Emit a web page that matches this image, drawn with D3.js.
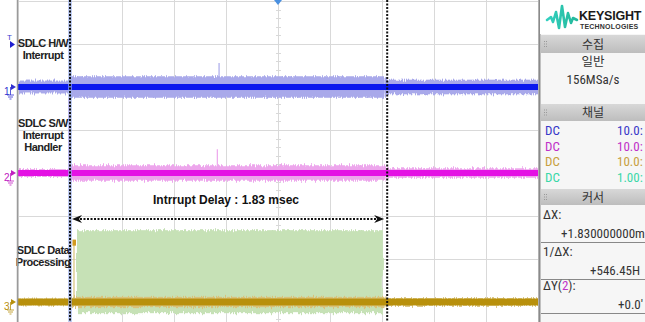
<!DOCTYPE html>
<html>
<head>
<meta charset="utf-8">
<script src="https://cdn.jsdelivr.net/npm/d3@7"></script>
<style>
  html, body { margin: 0; padding: 0; background: #fff; }
  svg { display: block; }
</style>
</head>
<body>
<div id="scope"></div>
<script>
// time in ms, amplitude in screen divisions (0 = centre line)
const timeTicks = d3.range(-1.5, 1.5001, 0.3);
const divTicks = d3.range(-4, 4.001, 1);
const cursorTimes = [-1.2, 0.63];

const chNames = ['1', '2', '3'];
const chOffsets = [2, 0, -3];

// [t start, t end, noise half-width (div)]
const ch1Noise = [[-1.5, -1.2, 0.15], [-1.2, 0.62, 0.25], [0.62, 1.5, 0.17]];
const ch2Noise = [[-1.5, -1.2, 0.09], [-1.2, 0.62, 0.18], [0.62, 1.5, 0.11]];
const ch3Noise = [[-1.5, -1.2, 0.08], [-1.2, 0.62, 0.12], [0.62, 1.5, 0.09]];
const coreHalf = [0.07, 0.07, 0.08];

// [t, peak (div)]
const ch1Spikes = [[-1.2, 2.6], [-0.34, 2.56]];
const ch2Spikes = [[-1.205, 1.75], [-0.35, 0.55]];
const ch3Spikes = [[-1.177, -1.55]];

// channel 4 burst: [t start, t end, top (div), bottom (div)]
const ch4Burst = [-1.16, 0.605, -1.33, -3.26];

const traceLabels = [
  { lines: ['SDLC H/W', 'Interrupt'], y: 47 },
  { lines: ['SDLC S/W', 'Interrupt', 'Handler'], y: 127 },
  { lines: ['SDLC Data', 'Processing'], y: 254 }
];
const delayText = 'Intrrupt Delay : 1.83 msec';

const chanRows = ['DC', 'DC', 'DC', 'DC'];
const chanScales = ['10.0:', '10.0:', '10.0:', '1.00:'];

const W = 645, H = 322;
const plot = { left: 18, right: 538, mid: 173, div: 43 };

const colors = {
  core: ['#0b17ee', '#e411e4', '#b8900c'],
  noise: ['#a9a9ea', '#eda5ec', '#d9c27a'],
  label: ['#3030d0', '#c020c0', '#b8900c'],
  chanText: ['#3838c8', '#c030c8', '#c8a040', '#3ad8a8']
};

const svg = d3.select('#scope').append('svg')
  .attr('width', W).attr('height', H)
  .style('font-family', 'Arial, "Liberation Sans", sans-serif');

const x = d3.scaleLinear().domain([-1.5, 1.5]).range([plot.left, plot.right]);
const y = d3.scaleLinear().domain([-4, 4]).range([plot.mid + 4 * plot.div, plot.mid - 4 * plot.div]);

const defs = svg.append('defs');
defs.append('clipPath').attr('id', 'plotClip')
  .append('rect').attr('x', plot.left).attr('y', 0)
  .attr('width', plot.right - plot.left).attr('height', H);

// jagged edge texture for noisy traces (style only)
const f = defs.append('filter').attr('id', 'jag')
  .attr('x', '-2%').attr('y', '-60%').attr('width', '104%').attr('height', '220%');
f.append('feTurbulence').attr('type', 'fractalNoise').attr('baseFrequency', '0.9 0.04')
  .attr('numOctaves', 1).attr('seed', 3).attr('result', 'n');
f.append('feDisplacementMap').attr('in', 'SourceGraphic').attr('in2', 'n')
  .attr('scale', 7).attr('xChannelSelector', 'B').attr('yChannelSelector', 'R');

// grid
const grid = svg.append('g').attr('stroke', '#d9d9d9').attr('stroke-width', 1);
grid.selectAll('line.v').data(timeTicks).join('line')
  .attr('x1', d => Math.round(x(d)) + 0.5).attr('x2', d => Math.round(x(d)) + 0.5)
  .attr('y1', 0).attr('y2', H);
grid.selectAll('line.h').data(divTicks).join('line')
  .attr('x1', plot.left).attr('x2', plot.right)
  .attr('y1', d => Math.round(y(d)) + 0.5).attr('y2', d => Math.round(y(d)) + 0.5);

// minor ticks on the centre axes
const minorY = d3.range(-4, 4.001, 0.2);
grid.selectAll('line.my').data(minorY).join('line')
  .attr('x1', x(0) - 2).attr('x2', x(0) + 3)
  .attr('y1', d => Math.round(y(d)) + 0.5).attr('y2', d => Math.round(y(d)) + 0.5);
const minorX = d3.range(-1.5, 1.5001, 0.06);
grid.selectAll('line.mx').data(minorX).join('line')
  .attr('x1', d => Math.round(x(d)) + 0.5).attr('x2', d => Math.round(x(d)) + 0.5)
  .attr('y1', y(0) - 2).attr('y2', y(0) + 3);

const traces = svg.append('g').attr('clip-path', 'url(#plotClip)');

// channel 4 burst (green)
traces.append('g').attr('filter', 'url(#jag)').append('rect')
  .attr('x', x(ch4Burst[0])).attr('width', x(ch4Burst[1]) - x(ch4Burst[0]))
  .attr('y', y(ch4Burst[2])).attr('height', y(ch4Burst[3]) - y(ch4Burst[2]))
  .attr('fill', '#c6e1b6');

const noiseSets = [ch1Noise, ch2Noise, ch3Noise];
const spikeSets = [ch1Spikes, ch2Spikes, ch3Spikes];

chNames.forEach((name, i) => {
  const off = chOffsets[i];
  const g = traces.append('g');
  g.append('g').attr('filter', 'url(#jag)')
    .selectAll('rect.noise').data(noiseSets[i]).join('rect')
    .attr('x', d => x(d[0])).attr('width', d => x(d[1]) - x(d[0]))
    .attr('y', d => y(off + d[2])).attr('height', d => y(off - d[2]) - y(off + d[2]))
    .attr('fill', colors.noise[i]);
  g.selectAll('line.spike').data(spikeSets[i]).join('line')
    .attr('x1', d => x(d[0])).attr('x2', d => x(d[0]))
    .attr('y1', y(off)).attr('y2', d => y(d[1]))
    .attr('stroke', colors.noise[i]).attr('stroke-width', 1.2);
  g.append('rect')
    .attr('x', plot.left).attr('width', plot.right - plot.left)
    .attr('y', y(off + coreHalf[i])).attr('height', y(off - coreHalf[i]) - y(off + coreHalf[i]))
    .attr('fill', colors.core[i]);
});

// ch3 glitch block at the top of its spike
traces.append('rect')
  .attr('x', x(ch3Spikes[0][0]) - 1.5).attr('width', 3.5)
  .attr('y', y(ch3Spikes[0][1])).attr('height', 6)
  .attr('fill', '#d29a20');

// cursors
const cur = svg.append('g');
cur.selectAll('line.shade').data(cursorTimes.slice(0, 1)).join('line')
  .attr('x1', d => x(d)).attr('x2', d => x(d)).attr('y1', 0).attr('y2', H)
  .attr('stroke', '#9ab0f0').attr('stroke-width', 4).attr('opacity', 0.6);
cur.selectAll('line.c').data(cursorTimes).join('line')
  .attr('x1', d => x(d)).attr('x2', d => x(d)).attr('y1', 0).attr('y2', H)
  .attr('stroke', '#111').attr('stroke-width', 2).attr('stroke-dasharray', '2,1.5');

// delay arrow
const arrowY = 219;
const ax0 = x(cursorTimes[0]) + 2, ax1 = x(cursorTimes[1]) - 3;
svg.append('line')
  .attr('x1', ax0 + 8).attr('x2', ax1 - 8).attr('y1', arrowY).attr('y2', arrowY)
  .attr('stroke', '#111').attr('stroke-width', 2).attr('stroke-dasharray', '2,1.5');
svg.append('path')
  .attr('d', `M${ax0},${arrowY} l10,-4 l-3,4 l3,4 Z`).attr('fill', '#111');
svg.append('path')
  .attr('d', `M${ax1},${arrowY} l-10,-4 l3,4 l-3,4 Z`).attr('fill', '#111');
svg.append('text')
  .attr('x', 226).attr('y', 204).attr('text-anchor', 'middle')
  .attr('font-size', 12).attr('font-weight', 'bold').attr('fill', '#111')
  .text(delayText);

// trace labels
traceLabels.forEach(lab => {
  svg.append('text')
    .attr('x', 43).attr('y', lab.y).attr('text-anchor', 'middle')
    .attr('font-size', 11).attr('font-weight', 'bold').attr('fill', '#222')
    .attr('letter-spacing', -0.5)
    .selectAll('tspan').data(lab.lines).join('tspan')
    .attr('x', 43).attr('dy', (d, k) => k === 0 ? 0 : 12).text(d => d);
});

// left border of graticule
svg.append('line').attr('x1', plot.left - 0.5).attr('x2', plot.left - 0.5)
  .attr('y1', 0).attr('y2', H).attr('stroke', '#9a9a9a').attr('stroke-width', 1.5);

// trigger position marker (top)
svg.append('path').attr('d', `M${x(0) - 4},0 L${x(0) + 4},0 L${x(0)},5 Z`).attr('fill', '#4a90e0');

// trigger level marker
svg.append('text').attr('x', 7).attr('y', 40).attr('font-size', 8).attr('fill', '#4040d0').text('T');
svg.append('path').attr('d', 'M10,41 L15,44.5 L10,48 Z').attr('fill', '#2020d0');

// channel ground markers
chNames.forEach((name, i) => {
  const yy = y(chOffsets[i]);
  const g = svg.append('g').attr('fill', colors.label[i]).attr('stroke', colors.label[i]);
  g.append('text').attr('x', 4).attr('y', yy + 8).attr('font-size', 10).attr('stroke', 'none').text(name);
  g.append('path').attr('d', `M11,${yy - 3} L16,${yy} L11,${yy + 3} Z`).attr('stroke', 'none');
  g.append('path').attr('fill', 'none').attr('stroke-width', 0.8)
    .attr('d', `M10.5,${yy} V${yy + 8} M7,${yy + 8} H14 M8,${yy + 10} H13 M9.5,${yy + 12} H11.5`);
});

// ---------- right side panel ----------
const px = 540;
const panel = svg.append('g');
panel.append('rect').attr('x', px).attr('y', 0).attr('width', W - px).attr('height', H).attr('fill', '#f6f6f6');
panel.append('line').attr('x1', px - 0.5).attr('x2', px - 0.5).attr('y1', 0).attr('y2', H)
  .attr('stroke', '#8a8a8a').attr('stroke-width', 2);
panel.append('rect').attr('x', px).attr('y', 0).attr('width', W - px).attr('height', 34).attr('fill', '#ffffff');

// logo
const grad = defs.append('linearGradient').attr('id', 'logoGrad')
  .attr('x1', 0).attr('x2', 1).attr('y1', 0).attr('y2', 0);
grad.append('stop').attr('offset', 0).attr('stop-color', '#33d0c0');
grad.append('stop').attr('offset', 1).attr('stop-color', '#22b89a');
panel.append('path')
  .attr('d', 'M547,20 L551,17 L553,22 L556,12 L559,28 L562,6 L565,27 L568,13 L571,23 L573,18 L577,20')
  .attr('fill', 'none').attr('stroke', 'url(#logoGrad)').attr('stroke-width', 2.6)
  .attr('stroke-linejoin', 'round').attr('stroke-linecap', 'round');
panel.append('text').attr('x', 579).attr('y', 20).attr('font-size', 12.5).attr('font-weight', 'bold')
  .attr('fill', '#1a1a1a').attr('letter-spacing', -0.2).text('KEYSIGHT');
panel.append('text').attr('x', 580).attr('y', 29).attr('font-size', 7).attr('font-weight', 'bold')
  .attr('fill', '#333').attr('letter-spacing', 0.2).text('TECHNOLOGIES');

const headers = [
  { text: '수집', y: 35, h: 18 },
  { text: '채널', y: 104, h: 17 },
  { text: '커서', y: 189, h: 16 }
];
const hgrad = defs.append('linearGradient').attr('id', 'hdrGrad')
  .attr('x1', 0).attr('x2', 0).attr('y1', 0).attr('y2', 1);
hgrad.append('stop').attr('offset', 0).attr('stop-color', '#d8d8d8');
hgrad.append('stop').attr('offset', 1).attr('stop-color', '#bdbdbd');
headers.forEach(hd => {
  panel.append('rect').attr('x', px + 1).attr('y', hd.y).attr('width', W - px).attr('height', hd.h)
    .attr('fill', 'url(#hdrGrad)');
  [0, 1].forEach(c => [0, 1, 2].forEach(r => panel.append('rect')
    .attr('x', px + 4 + c * 2).attr('y', hd.y + hd.h / 2 - 3 + r * 2.5).attr('width', 1).attr('height', 1)
    .attr('fill', '#999')));
  panel.append('text').attr('x', 593).attr('y', hd.y + hd.h / 2 + 4.5).attr('text-anchor', 'middle')
    .attr('font-size', 12).attr('fill', '#333')
    .attr('font-family', '"Noto Sans CJK KR", sans-serif').text(hd.text);
});

const cond = '"Liberation Sans Narrow", "Roboto Condensed", Roboto, sans-serif';
panel.append('text').attr('x', 593).attr('y', 66).attr('text-anchor', 'middle').attr('font-size', 12.5)
  .attr('fill', '#333').attr('font-family', '"Noto Sans CJK KR", sans-serif').text('일반');
panel.append('text').attr('x', 593).attr('y', 84).attr('text-anchor', 'middle').attr('font-size', 13)
  .attr('fill', '#333').attr('font-family', cond).text('156MSa/s');

chanRows.forEach((t, i) => {
  const yy = 135 + i * 15.5;
  panel.append('text').attr('x', 545).attr('y', yy).attr('font-size', 13).attr('font-family', cond)
    .attr('fill', colors.chanText[i]).text(t);
  panel.append('text').attr('x', 617).attr('y', yy).attr('font-size', 13).attr('font-family', cond)
    .attr('fill', colors.chanText[i]).text(chanScales[i]);
});

const cursorRows = [
  { label: 'ΔX:', value: '+' + (cursorTimes[1] - cursorTimes[0]).toFixed(9) + 'm', y: 219, vx: 561 },
  { label: '1/ΔX:', value: '+' + (1000 / (cursorTimes[1] - cursorTimes[0])).toFixed(2) + 'H', y: 256, vx: 590 },
  { label: 'ΔY(2):', value: '+0.0\'', y: 290, vx: 618 }
];
cursorRows.forEach((r, k) => {
  const t = panel.append('text').attr('x', 543).attr('y', r.y).attr('font-size', 13)
    .attr('font-family', cond).attr('fill', '#333');
  if (k === 2) {
    t.append('tspan').text('ΔY(');
    t.append('tspan').attr('fill', '#c030c8').text('2');
    t.append('tspan').text('):');
  } else {
    t.text(r.label);
  }
  panel.append('text').attr('x', r.vx).attr('y', r.y + 19).attr('font-size', 13)
    .attr('font-family', cond).attr('fill', '#333').text(r.value);
  panel.append('line').attr('x1', px + 1).attr('x2', W).attr('y1', r.y + 23.5).attr('y2', r.y + 23.5)
    .attr('stroke', '#888').attr('stroke-width', 1);
});
</script>
</body>
</html>
